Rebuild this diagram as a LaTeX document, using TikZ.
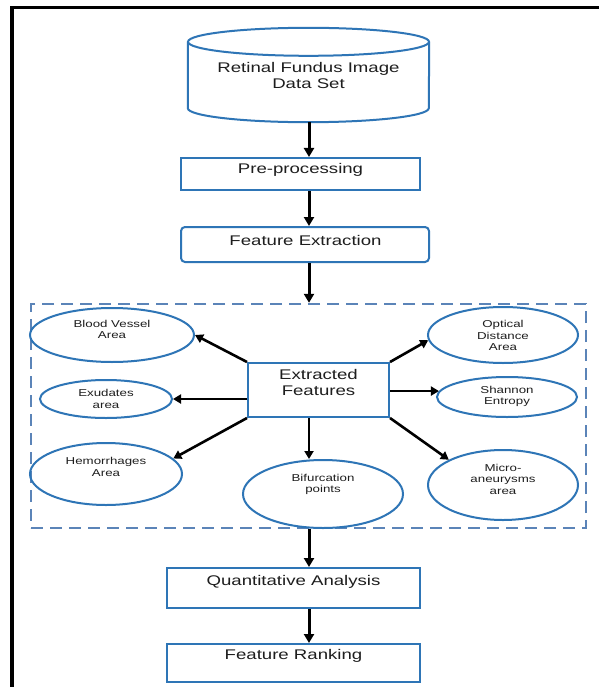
\documentclass[tikz,border=0pt]{standalone}
\usepackage{fontspec}
\setmainfont{Liberation Sans}[FakeStretch=1.33]
\usetikzlibrary{arrows.meta,shapes.geometric,calc}
\definecolor{boxblue}{RGB}{46,117,182}
\definecolor{dashblue}{RGB}{91,132,184}
\definecolor{txt}{RGB}{30,30,30}
\begin{document}
\begin{tikzpicture}[x=1pt,y=-1pt,
  outl/.style={draw=boxblue, line width=2pt},
  boxn/.style={rectangle, outl, inner sep=0pt},
  ell/.style={ellipse, outl, inner sep=0pt},
  bigt/.style={font=\fontsize{14}{16}\selectfont, text=txt, align=center, inner sep=0pt},
  smallt/.style={font=\fontsize{10}{11.5}\selectfont, text=txt, align=center, inner sep=0pt},
  arr/.style={draw=black, line width=3pt, -{Triangle[length=9pt,width=10pt]}},
  sarr/.style={draw=black, line width=2.6pt, -{Triangle[length=8pt,width=9pt]}},
]
\useasboundingbox (0,0) rectangle (599,687);
\fill[white] (0,0) rectangle (599,687);
% outer frame (left and top)
\draw[line width=3.8pt, line join=miter] (12,687) -- (12,7.5) -- (599,7.5);

\coordinate (axis) at (309,0);

% database cylinder
\node[rectangle, draw=none, minimum width=241pt, minimum height=94pt, inner sep=0pt] (db) at (308.5,75) {};
\draw[outl] ([yshift=-14pt]db.north) ellipse [x radius=120.5pt, y radius=14pt];
\draw[outl] ([yshift=-14pt]db.north west) -- ([yshift=14pt]db.south west)
  arc[start angle=180, end angle=360, x radius=120.5pt, y radius=14pt]
  -- ([yshift=-14pt]db.north east);
\node[bigt] (dbt) at (308.5,75) {Retinal Fundus Image\\Data Set};

% boxes
\node[boxn, minimum width=239pt, minimum height=32pt] (pre) at (300.5,174) {};
\node[bigt] (pret) at (300.5,170) {Pre-processing};
\node[boxn, rounded corners=4pt, minimum width=248pt, minimum height=35pt] (fe) at (305,244.5) {};
\node[bigt] (fet) at (305.5,240) {Feature Extraction};

% dashed group
\node[rectangle, draw=dashblue, line width=2.4pt, dash pattern=on 12pt off 7pt,
      minimum width=555pt, minimum height=224pt, inner sep=0pt] (grp) at (308.5,416) {};

% extracted features
\node[boxn, minimum width=141pt, minimum height=54pt] (ef) at (318.5,390) {};
\node[bigt] (eft) at (318.5,382) {Extracted\\Features};

% ellipses
\node[ell, minimum width=164pt, minimum height=54pt] (bv) at (112,335) {};
\node[smallt] (bvt) at (112,329.5) {Blood Vessel\\Area};
\node[ell, minimum width=132pt, minimum height=38pt] (exu) at (106,399) {};
\node[smallt] (exut) at (106,399) {Exudates\\area};
\node[ell, minimum width=152pt, minimum height=62pt] (hem) at (106,474) {};
\node[smallt] (hemt) at (106,467) {Hemorrhages\\Area};
\node[ell, minimum width=160pt, minimum height=68pt] (bif) at (323,494) {};
\node[smallt] (bift) at (323,484.5) {Bifurcation\\points};
\node[ell, minimum width=150pt, minimum height=56pt] (opt) at (503,335) {};
\node[smallt] (optt) at (503,335.5) {Optical\\Distance\\Area};
\node[ell, minimum width=140pt, minimum height=40pt] (sh) at (507,397) {};
\node[smallt] (sht) at (507,396.5) {Shannon\\Entropy};
\node[ell, minimum width=150pt, minimum height=70pt] (mic) at (503,485) {};
\node[smallt] (mict) at (503,479) {Micro-\\aneurysms\\area};

% lower boxes
\node[boxn, minimum width=253pt, minimum height=40pt] (qa) at (293.5,588) {};
\node[bigt] (qat) at (293.5,582) {Quantitative Analysis};
\node[boxn, minimum width=253pt, minimum height=38pt] (fr) at (293.5,663) {};
\node[bigt] (frt) at (293.5,656) {Feature Ranking};

% main arrows
\draw[arr] (axis |- db.south) -- (axis |- pre.north);
\draw[arr] (axis |- pre.south) -- (axis |- fe.north);
\draw[arr] (axis |- fe.south) -- (axis |- grp.north);
\draw[arr] (axis |- grp.south) -- (axis |- qa.north);
\draw[arr] (axis |- qa.south) -- (axis |- fr.north);

% feature arrows
\draw[sarr] (ef.north west) -- (bv.east);
\draw[sarr] (ef.west |- exu.east) -- (exu.east);
\draw[sarr] (ef.south west) -- (hem.13);
\draw[sarr] (axis |- ef.south) -- (axis |- bif.north);
\draw[sarr] (ef.north east) -- (opt.184);
\draw[sarr] (ef.east |- sh.175) -- (sh.175);
\draw[sarr] (ef.south east) -- (mic.155);
\end{tikzpicture}
\end{document}
